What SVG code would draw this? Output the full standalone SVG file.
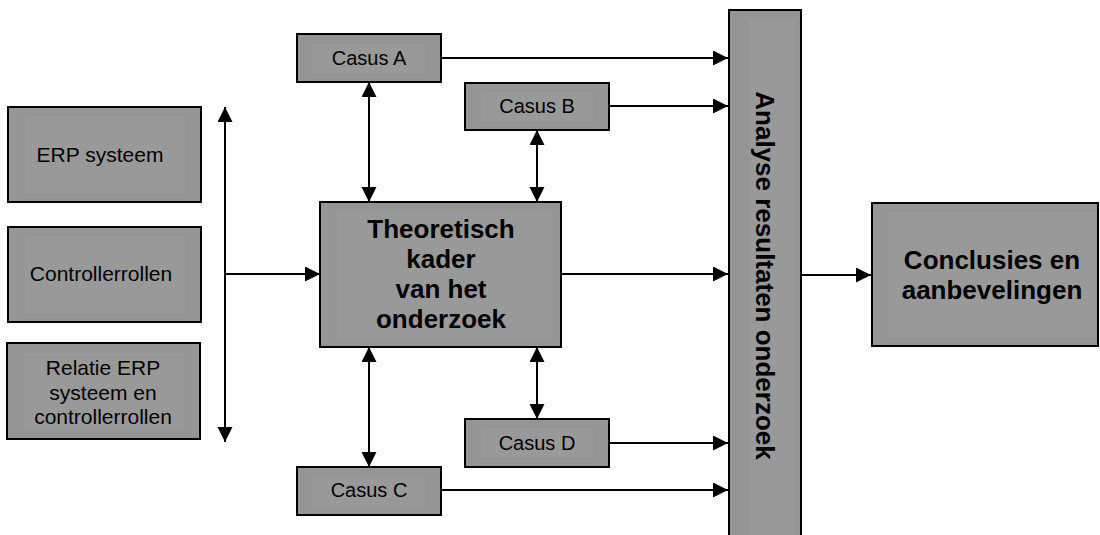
<svg xmlns="http://www.w3.org/2000/svg" width="1100" height="535" viewBox="0 0 1100 535">
<defs>
<marker id="ah" markerUnits="userSpaceOnUse" markerWidth="16" markerHeight="16" refX="15" refY="7.5" orient="auto-start-reverse">
<path d="M0,0 L15,7.5 L0,15 z" fill="#000"/>
</marker>
</defs>
<style>
.box{fill:#959595;stroke:#000;stroke-width:2}
.inner{fill:#999999;stroke:none}
.t{font-family:"Liberation Sans",Arial,sans-serif;font-size:20px;fill:#000;text-anchor:middle}
.tl{font-family:"Liberation Sans",Arial,sans-serif;font-size:21px;fill:#000;text-anchor:middle}
.b{font-family:"Liberation Sans",Arial,sans-serif;font-size:26px;font-weight:bold;fill:#000;text-anchor:middle}
.c{fill:none;stroke:#000;stroke-width:2}
</style>
<rect width="1100" height="535" fill="#fff"/>

<g id="erp">
<rect class="box" x="8" y="107" width="193" height="95"/>
<rect class="inner" x="25" y="117" width="160" height="76"/>
<text class="tl" x="100" y="162">ERP systeem</text>
</g>
<g id="controllerrollen">
<rect class="box" x="8" y="227" width="193" height="95"/>
<rect class="inner" x="25" y="237" width="160" height="76"/>
<text class="tl" x="101" y="281">Controllerrollen</text>
</g>
<g id="relatie">
<rect class="box" x="7" y="343" width="193" height="96"/>
<rect class="inner" x="24" y="353" width="160" height="77"/>
<text class="tl" x="103" y="375">Relatie ERP</text>
<text class="tl" x="103" y="400">systeem en</text>
<text class="tl" x="103" y="424">controllerrollen</text>
</g>
<g id="theoretisch">
<rect class="box" x="320" y="202" width="241" height="145"/>
<rect class="inner" x="337" y="210" width="216" height="128"/>
<text class="b" x="441" y="238">Theoretisch</text>
<text class="b" x="441" y="268">kader</text>
<text class="b" x="441" y="298">van het</text>
<text class="b" x="441" y="328">onderzoek</text>
</g>
<g id="casusA">
<rect class="box" x="297" y="34" width="144" height="48"/>
<rect class="inner" x="312" y="45" width="113" height="28"/>
<text class="t" x="369" y="65">Casus A</text>
</g>
<g id="casusB">
<rect class="box" x="465" y="83" width="144" height="47"/>
<rect class="inner" x="481" y="93" width="112" height="28"/>
<text class="t" x="537" y="113">Casus B</text>
</g>
<g id="casusD">
<rect class="box" x="465" y="419" width="144" height="48"/>
<rect class="inner" x="481" y="429" width="112" height="28"/>
<text class="t" x="537" y="450">Casus D</text>
</g>
<g id="casusC">
<rect class="box" x="297" y="467" width="144" height="48"/>
<rect class="inner" x="312" y="478" width="113" height="28"/>
<text class="t" x="369" y="497">Casus C</text>
</g>
<g id="analyse">
<rect class="box" x="729" y="10" width="72" height="540"/>
<rect class="inner" x="749" y="20" width="46" height="520"/>
<text class="b" transform="translate(756,275.5) rotate(90)" x="0" y="0">Analyse resultaten onderzoek</text>
</g>
<g id="conclusies">
<rect class="box" x="872" y="203" width="226" height="143"/>
<rect class="inner" x="888" y="213" width="208" height="124"/>
<text class="b" x="992" y="269">Conclusies en</text>
<text class="b" x="992" y="299">aanbevelingen</text>
</g>

<g id="connectors">
<line class="c" x1="225" y1="107" x2="225" y2="442" marker-start="url(#ah)" marker-end="url(#ah)"/>
<line class="c" x1="225" y1="274" x2="320" y2="274" marker-end="url(#ah)"/>
<line class="c" x1="369" y1="82" x2="369" y2="202" marker-start="url(#ah)" marker-end="url(#ah)"/>
<line class="c" x1="369" y1="347" x2="369" y2="467" marker-start="url(#ah)" marker-end="url(#ah)"/>
<line class="c" x1="537" y1="130" x2="537" y2="202" marker-start="url(#ah)" marker-end="url(#ah)"/>
<line class="c" x1="537" y1="347" x2="537" y2="419" marker-start="url(#ah)" marker-end="url(#ah)"/>
<line class="c" x1="441" y1="58" x2="728" y2="58" marker-end="url(#ah)"/>
<line class="c" x1="609" y1="106" x2="728" y2="106" marker-end="url(#ah)"/>
<line class="c" x1="561" y1="274" x2="728" y2="274" marker-end="url(#ah)"/>
<line class="c" x1="609" y1="443" x2="728" y2="443" marker-end="url(#ah)"/>
<line class="c" x1="441" y1="490" x2="728" y2="490" marker-end="url(#ah)"/>
<line class="c" x1="801" y1="275" x2="871" y2="275" marker-end="url(#ah)"/>
</g>
</svg>
